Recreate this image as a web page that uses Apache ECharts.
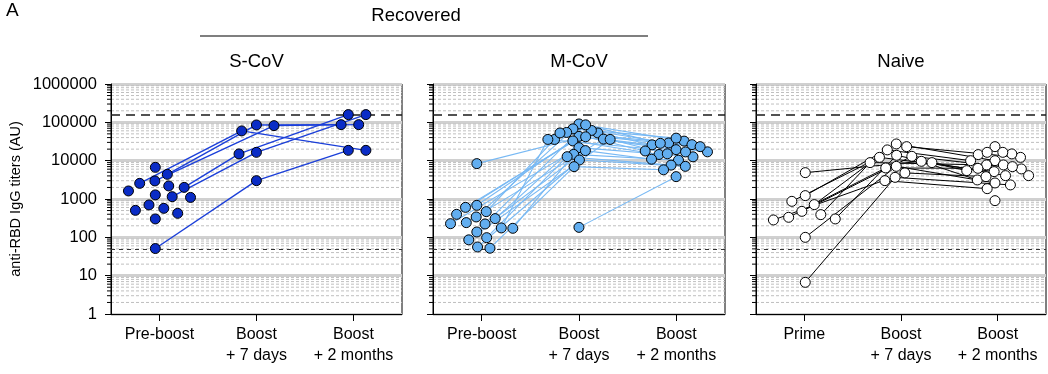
<!DOCTYPE html>
<html>
<head>
<meta charset="utf-8">
<script src="https://cdn.jsdelivr.net/npm/echarts/dist/echarts.min.js"></script>
<style>html,body{margin:0;padding:0;background:#fff}#c{width:1048px;height:374px}</style>
</head>
<body>
<div id="c"></div>
<script>
// ---------------- DATA ----------------
const panelTitles = ['S-CoV', 'M-CoV', 'Naive'];
const groupTitle = 'Recovered';
const yAxisTitle = 'anti-RBD IgG titers (AU)';
const recoveredCategories = ['Pre-boost', 'Boost\n+ 7 days', 'Boost\n+ 2 months'];
const naiveCategories = ['Prime', 'Boost\n+ 7 days', 'Boost\n+ 2 months'];
const yAxisMin = 1;
const yAxisMax = 1000000;
const upperThreshold = 160000;
const lowerThreshold = 50;

// S-CoV (one entry per subject; null = not sampled)
const scovPre    = [51, 2560, 4400, 2960, 2010, 1150, 6700, 1280, 700, 1100, 423, 2190, 570, 302, 1620, 506];
const scovDay7   = [3010, 59700, 85500, 82000, 15000, 16500, null, null, null, null, null, null, null, null, null, null];
const scovMonth2 = [18600, 18600, 87000, 87000, 159000, 159000, null, null, null, null, null, null, null, null, null, null];

// M-CoV
const mcovPre    = [8370, 684, 605, 468, 398, 340, 308, 242, 227, 223, 176, 172, 138, 98, 86, 56, 52, null, null, null, null];
const mcovDay7   = [52800, 43100, 61500, 35800, 32700, 90800, 41900, 36500, 21900, 86000, 35800, 14600, 18300, 12700, 35800, 10400, 6980, 67600, 54500, 52800, 182];
const mcovMonth2 = [25900, 19400, 29000, null, 14500, 32400, 17900, 17000, 12600, 28300, 16900, 10300, 10900, 7650, 15100, 7110, 5770, 38700, 26200, 23200, 3830];

// Naive
const naivePrime  = [4870, 1225, 869, 713, 476, 391, 333, 302, 284, 100, 6.7, null, null, null, null, null, null, null, null, null, null, null, null];
const naiveDay7   = [9620, 27300, 12200, 19100, 13000, 8900, 6460, 13800, 4790, 7110, 3670, 23200, 8900, 3010, null, null, null, null, null, null, null, null, null];
const naiveMonth2 = [3140, 10000, 5180, 10000, 6080, 7740, 6310, 5500, 3830, 2620, 2330, 12200, 4070, 1860, 23200, 14400, 15000, 16500, 16500, 7740, 4070, 6980, 906];

// ---------------- CHART ----------------
const FONT = "'Liberation Sans', Arial, Helvetica, sans-serif";
const panels = [
  { cats: recoveredCategories, series: [scovPre, scovDay7, scovMonth2], fill: '#0a2cc6', line: '#1b3fd9', lw: 1.4 },
  { cats: recoveredCategories, series: [mcovPre, mcovDay7, mcovMonth2], fill: '#62aef0', line: '#78b9f4', lw: 1.1 },
  { cats: naiveCategories, series: [naivePrime, naiveDay7, naiveMonth2], fill: '#ffffff', line: '#000000', lw: 1 }
];
const gridPos = [{ left: 111, width: 291 }, { left: 433, width: 292 }, { left: 756, width: 290 }];

const minorValues = [];
for (let k = 0; k < 6; k++) for (let m = 2; m <= 9; m++) minorValues.push(m * Math.pow(10, k));

const chart = echarts.init(document.getElementById('c'));

const grid = gridPos.map(g => ({ left: g.left, width: g.width, top: 84, height: 230, show: true, borderColor: '#000', borderWidth: 1, backgroundColor: 'rgba(0,0,0,0)' }));
const xAxis = [];
const yAxis = [];
panels.forEach((p, i) => {
  xAxis.push({
    type: 'category', gridIndex: i, data: p.cats, boundaryGap: true,
    axisLine: { show: true, onZero: false, lineStyle: { color: '#000', width: 1 } },
    axisTick: { show: true, alignWithLabel: true, length: 7, lineStyle: { color: '#000' } },
    axisLabel: { color: '#000', fontSize: 16, fontFamily: FONT, lineHeight: 21, margin: 10, interval: 0 },
    splitLine: { show: false }
  });
  xAxis.push({ type: 'value', gridIndex: i, min: -0.5, max: 2.5, show: false, splitLine: { show: false } });
  yAxis.push({
    type: 'log', logBase: 10, gridIndex: i, min: yAxisMin, max: yAxisMax, splitNumber: 6,
    axisLine: { show: true, onZero: false, lineStyle: { color: '#000', width: 1 } },
    axisTick: { show: true, length: 6, lineStyle: { color: '#000' } },
    axisLabel: { show: i === 0, color: '#000', fontSize: 16.5, fontFamily: FONT, margin: 14, formatter: v => String(Math.round(v)) },
    splitLine: { show: true, lineStyle: { color: '#d0d0d0', width: 3 } },
    name: i === 0 ? yAxisTitle : '', nameLocation: 'middle', nameGap: 88, nameRotate: 90,
    nameTextStyle: { color: '#000', fontSize: 14.5, fontFamily: FONT }
  });
});

function minorSeries(i) {
  return {
    type: 'custom', xAxisIndex: 2 * i + 1, yAxisIndex: i, clip: false, silent: true, z: 0,
    data: minorValues.map(v => [0, v]),
    renderItem: (params, api) => {
      const v = api.value(1);
      const a = api.coord([-0.5, v]);
      const b = api.coord([2.5, v]);
      return { type: 'group', children: [
        { type: 'line', shape: { x1: a[0], y1: a[1], x2: b[0], y2: b[1] }, style: { stroke: '#bfbfbf', lineWidth: 1, lineDash: [3, 2] } },
        { type: 'line', shape: { x1: a[0] - 4, y1: a[1], x2: a[0], y2: a[1] }, style: { stroke: '#000', lineWidth: 1 } }
      ] };
    }
  };
}

const graphic = [
  { type: 'text', left: 6, top: 1, style: { text: 'A', fontSize: 19, fontFamily: FONT, fill: '#000' } },
  { type: 'text', x: 416, y: 16, style: { text: groupTitle, fontSize: 18.5, fontFamily: FONT, fill: '#000', align: 'center', verticalAlign: 'middle' } },
  { type: 'line', shape: { x1: 200, y1: 36, x2: 648, y2: 36 }, style: { stroke: '#000', lineWidth: 1.2 } }
];
panelTitles.forEach((t, i) => {
  graphic.push({ type: 'text', x: gridPos[i].left + gridPos[i].width / 2, y: 62, style: { text: t, fontSize: 18.5, fontFamily: FONT, fill: '#000', align: 'center', verticalAlign: 'middle' } });
});

chart.setOption({
  animation: false,
  grid, xAxis, yAxis, graphic,
  series: panels.map((p, i) => minorSeries(i))
});

// Beeswarm layout computed in pixel space through the axes' own scales
function swarm(pxY, D, maxHalf) {
  const order = pxY.map((_, i) => i).sort((a, b) => pxY[a] - pxY[b]);
  const placed = [];
  const out = new Array(pxY.length).fill(0);
  let flip = 1;
  order.forEach(i => {
    const y = pxY[i];
    const near = placed.filter(q => Math.abs(q.y - y) < D);
    const cands = [0];
    near.forEach(q => { const dx = Math.sqrt(D * D - (q.y - y) * (q.y - y)); cands.push(q.x + dx, q.x - dx); });
    cands.sort((a, b) => (Math.abs(a) - Math.abs(b)) || (flip * (a - b)));
    let chosen = 0;
    for (const c of cands) {
      if (near.every(q => (q.x - c) * (q.x - c) + (q.y - y) * (q.y - y) >= D * D - 0.01)) { chosen = c; break; }
    }
    flip = -flip;
    placed.push({ x: chosen, y });
    out[i] = chosen;
  });
  // centre the swarm on the category, then widen/compress to the category's spread
  const lo = Math.min(...out), hi = Math.max(...out);
  const mid = (lo + hi) / 2;
  const centred = out.map(o => o - mid);
  const ext = Math.max(1e-6, ...centred.map(Math.abs));
  const s = Math.min(1.6, maxHalf / ext);
  return centred.map(o => o * s);
}

const series = panels.map((p, i) => minorSeries(i));
panels.forEach((p, i) => {
  const pxPerUnit = chart.convertToPixel({ xAxisIndex: 2 * i + 1 }, 1) - chart.convertToPixel({ xAxisIndex: 2 * i + 1 }, 0);
  const n = p.series[0].length;
  const xs = p.series.map(() => new Array(n).fill(null));
  p.series.forEach((arr, t) => {
    const idx = [];
    arr.forEach((v, k) => { if (v != null) idx.push(k); });
    const py = idx.map(k => chart.convertToPixel({ yAxisIndex: i }, arr[k]));
    const off = swarm(py, 11, 0.32 * pxPerUnit);
    idx.forEach((k, j) => { xs[t][k] = t + off[j] / pxPerUnit; });
  });
  // connecting lines per subject
  for (let k = 0; k < n; k++) {
    const pts = [];
    for (let t = 0; t < 3; t++) {
      const v = p.series[t][k];
      pts.push(v == null ? null : [xs[t][k], v]);
    }
    for (let t = 0; t < 2; t++) {
      if (pts[t] && pts[t + 1]) {
        series.push({ type: 'line', xAxisIndex: 2 * i + 1, yAxisIndex: i, data: [pts[t], pts[t + 1]], symbol: 'none', silent: true, z: 2,
          lineStyle: { color: p.line, width: p.lw }, animation: false });
      }
    }
  }
  // thresholds
  series.push({ type: 'line', xAxisIndex: 2 * i + 1, yAxisIndex: i, data: [], z: 1, silent: true,
    markLine: { silent: true, symbol: 'none', label: { show: false }, animation: false,
      data: [
        { yAxis: upperThreshold, lineStyle: { type: [9, 6], width: 1.6, color: '#1a1a1a' } },
        { yAxis: lowerThreshold, lineStyle: { type: [4, 4], width: 1, color: '#333' } }
      ] } });
  // points
  const data = [];
  p.series.forEach((arr, t) => arr.forEach((v, k) => { if (v != null) data.push([xs[t][k], v]); }));
  series.push({ type: 'scatter', xAxisIndex: 2 * i + 1, yAxisIndex: i, data, symbol: 'circle', symbolSize: 10, z: 5,
    itemStyle: { color: p.fill, borderColor: '#000', borderWidth: 1, opacity: 1 }, silent: true });
});

chart.setOption({ series }, { replaceMerge: ['series'] });
</script>
</body>
</html>
